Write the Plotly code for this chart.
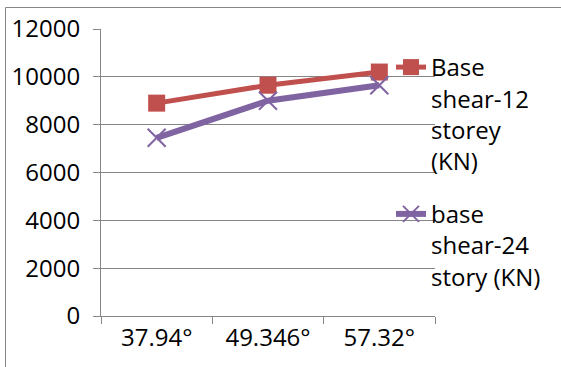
import plotly.graph_objects as go

categories = ["37.94°", "49.346°", "57.32°"]
shear_12 = [8900, 9650, 10200]
shear_24 = [7450, 9000, 9650]
name_12 = "Base<br>shear-12<br>storey<br>(KN)"
name_24 = "base<br>shear-24<br>story (KN)"
y_ticks = [0, 2000, 4000, 6000, 8000, 10000, 12000]
y_tick_labels = ["0", "2000", "4000", "6000", "8000", "10000", "12000"]

RED = "#C0504D"
PURPLE = "#8064A2"
GRID = "#868686"
FONT = "Open Sans"
FS = 24

W, H = 561, 367
L, R, T, B = 101, 126, 29, 51
pw, ph = W - L - R, H - T - B

fig = go.Figure()
fig.add_trace(go.Scatter(
    x=categories, y=shear_12, name=name_12, mode="lines+markers",
    line=dict(color=RED, width=5),
    marker=dict(symbol="square", size=17, color=RED),
    legendgroup="a",
))
fig.add_trace(go.Scatter(
    x=categories, y=shear_24, name=name_24, mode="lines+markers",
    line=dict(color=PURPLE, width=6),
    marker=dict(symbol="x-thin", size=18, color=PURPLE,
                line=dict(color=PURPLE, width=2)),
    legendgroup="b",
))

def px_x(p):
    return (p - L) / pw

def px_y(p):
    return (H - B - p) / ph

fig.add_shape(type="rect", xref="paper", yref="paper",
              x0=px_x(5.5), x1=px_x(575), y0=px_y(380), y1=px_y(7.5),
              line=dict(color=GRID, width=1), fillcolor="rgba(0,0,0,0)",
              layer="below")

fig.update_layout(
    width=W, height=H,
    margin=dict(l=L, r=R, t=T, b=B, autoexpand=False),
    paper_bgcolor="white", plot_bgcolor="white",
    font=dict(family=FONT, size=FS, color="black"),
    showlegend=True,
    legend=dict(
        x=px_x(391), y=px_y(45), xanchor="left", yanchor="top",
        valign="top", bgcolor="rgba(0,0,0,0)", borderwidth=0,
        traceorder="grouped", tracegroupgap=19,
        font=dict(family=FONT, size=FS, color="black"),
    ),
    xaxis=dict(
        type="category", showgrid=False, showline=True, linecolor=GRID,
        linewidth=1, ticks="outside", ticklen=7, tickcolor=GRID,
        tickson="boundaries", tickfont=dict(size=FS),
        range=[-0.5, 2.5], automargin=False,
    ),
    yaxis=dict(
        range=[0, 12000], tickvals=y_ticks, ticktext=y_tick_labels,
        showgrid=True, gridcolor=GRID,
        gridwidth=1, showline=True, linecolor=GRID, linewidth=1,
        ticks="outside", ticklen=7, tickcolor=GRID, zeroline=False,
        tickfont=dict(size=FS), ticklabelstandoff=8, automargin=False,
    ),
)

fig.write_html("out.html", config={"displayModeBar": False},
               post_script="document.body.style.margin='0';document.body.style.overflow='hidden';")
